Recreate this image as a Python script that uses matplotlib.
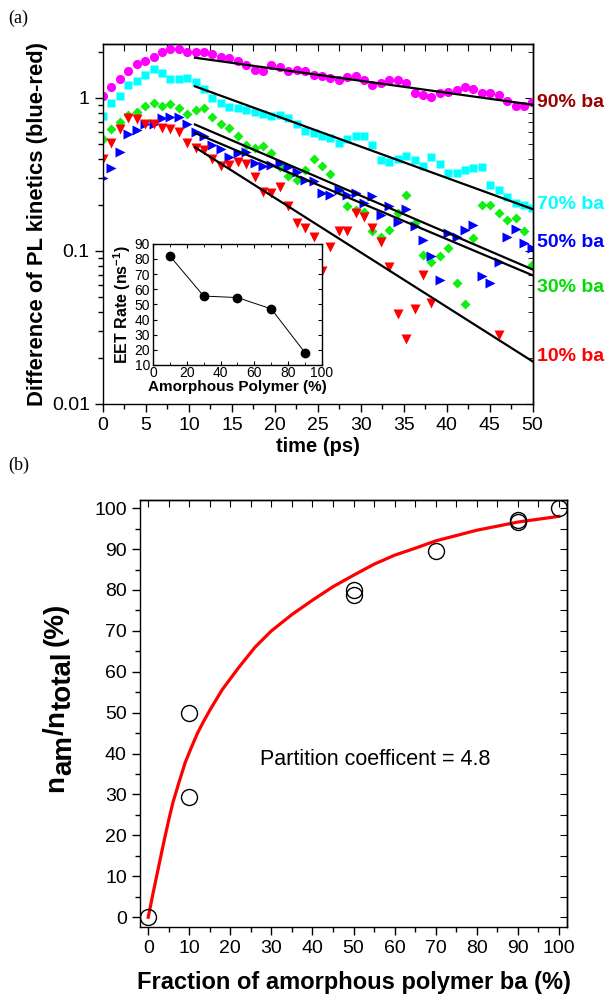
import numpy as np
import matplotlib
matplotlib.use("Agg")
import matplotlib.pyplot as plt
from matplotlib.ticker import MultipleLocator, LogLocator, NullFormatter
import matplotlib.transforms as mtransforms

plt.rcParams['font.family'] = 'Liberation Sans'
plt.rcParams['mathtext.fontset'] = 'custom'
plt.rcParams['mathtext.rm'] = 'Liberation Sans'
plt.rcParams['mathtext.bf'] = 'Liberation Sans:bold'
plt.rcParams['axes.linewidth'] = 1.0

# ---- panel (a): PL kinetics difference ----
t_ps = [0, 0.98, 1.96, 2.94, 3.92, 4.9, 5.88, 6.86, 7.84, 8.82, 9.8, 10.78,
        11.76, 12.74, 13.72, 14.7, 15.68, 16.66, 17.64, 18.62, 19.6, 20.58,
        21.56, 22.54, 23.52, 24.5, 25.48, 26.46, 27.44, 28.42, 29.4, 30.38,
        31.36, 32.34, 33.32, 34.3, 35.28, 36.26, 37.24, 38.22, 39.2, 40.18,
        41.16, 42.14, 43.12, 44.1, 45.08, 46.06, 47.04, 48.02, 49.0, 49.98]

ba90 = [1.03, 1.17, 1.32, 1.49, 1.67, 1.75, 1.86, 1.99, 2.09, 2.08, 2.0, 2.0,
        1.99, 1.94, 1.86, 1.82, 1.73, 1.64, 1.52, 1.49, 1.63, 1.59, 1.5, 1.51,
        1.49, 1.41, 1.39, 1.35, 1.31, 1.36, 1.38, 1.30, 1.22, 1.25, 1.31, 1.31,
        1.25, 1.07, 1.04, 1.02, 1.07, 1.10, 1.13, 1.17, 1.14, 1.07, 1.07, 1.05,
        0.955, 0.88, 0.89, 0.946]
ba70 = [0.76, 0.92, 1.03, 1.22, 1.28, 1.41, 1.54, 1.45, 1.33, 1.32, 1.34, 1.27,
        1.14, 1.0, 0.92, 0.87, 0.86, 0.83, 0.81, 0.79, 0.76, 0.77, 0.74, 0.67,
        0.61, 0.59, 0.56, 0.55, 0.51, 0.54, 0.56, 0.56, 0.49, 0.39, 0.38, 0.40,
        0.42, 0.39, 0.36, 0.41, 0.37, 0.325, 0.325, 0.34, 0.35, 0.355, 0.27,
        0.25, 0.226, 0.205, 0.20, 0.19]
ba50 = [0.30, 0.35, 0.44, 0.58, 0.62, 0.67, 0.68, 0.74, 0.75, 0.75, 0.68, 0.60,
        0.56, 0.49, 0.46, 0.41, 0.435, 0.445, 0.374, 0.36, 0.365, 0.374, 0.355,
        0.33, 0.29, 0.285, 0.24, 0.232, 0.25, 0.232, 0.238, 0.205, 0.229,
        0.172, 0.197, 0.155, 0.187, 0.146, 0.118, 0.093, 0.065, 0.13, 0.123,
        0.136, 0.148, 0.069, 0.062, 0.085, 0.124, 0.139, 0.112, 0.104]
ba30 = [0.54, 0.63, 0.70, 0.77, 0.81, 0.89, 0.92, 0.89, 0.91, 0.86, 0.79, 0.83,
        0.86, 0.75, 0.68, 0.64, 0.56, 0.49, 0.47, 0.485, 0.435, 0.355, 0.31,
        0.29, 0.34, 0.40, 0.36, 0.32, 0.25, 0.197, 0.185, 0.18, 0.134, 0.124,
        0.137, 0.176, 0.232, 0.152, 0.094, 0.085, 0.092, 0.104, 0.0615, 0.045,
        0.121, 0.2, 0.2, 0.176, 0.16, 0.163, 0.134, 0.081]
nan = np.nan
ba10 = [0.40, 0.51, 0.63, 0.74, 0.73, 0.68, 0.67, 0.64, 0.63, 0.60, 0.51, 0.47,
        0.457, 0.40, 0.36, 0.365, 0.38, 0.37, 0.306, 0.244, 0.238, 0.26, 0.197,
        0.152, 0.141, 0.123, 0.0743, 0.106, 0.134, 0.134, 0.176, 0.166, 0.141,
        0.115, 0.078, 0.0388, 0.0264, 0.042, 0.070, 0.0455, nan, nan, nan, nan,
        nan, nan, nan, 0.0282, nan, nan, nan, nan]

# single-exponential fits (start value at fit_t0, rate in ns^-1)
fit_t0 = 10.7
fit_amp = [1.83, 1.19, 0.59, 0.67, 0.476]
fit_rate = [18, 47, 54.5, 55.5, 82]

labels = ["90% ba", "70% ba", "50% ba", "30% ba", "10% ba"]
label_y = [0.93, 0.2, 0.113, 0.0573, 0.0203]
label_colors = ["#990000", "#00ffff", "#0000ff", "#00dd00", "#ff0000"]

# inset: EET rate vs amorphous polymer
inset_frac = [10, 30, 50, 70, 90]
inset_rate = [82, 55.5, 54.5, 47, 18]

# ---- panel (b): partition ----
frac_ba = [0, 10, 10, 50, 50, 70, 90, 90, 100]
n_ratio = [0, 50.0, 29.5, 80.0, 78.7, 89.5, 97.2, 96.6, 100]
curve_x = [0, 1, 2, 3, 4, 5, 6, 7.5, 9, 10.5, 12, 13.5, 15, 18, 22, 26, 30, 35,
           40, 45, 50, 55, 60, 65, 70, 75, 80, 85, 90, 95, 100]
curve_y = [0, 5, 9.8, 14.6, 19.3, 23.8, 28, 33, 37.8, 41.5, 45, 47.9, 50.6,
           55.6, 61, 66, 70, 74, 77.5, 80.8, 83.6, 86.3, 88.5, 90.2, 92, 93.3,
           94.6, 95.6, 96.6, 97.3, 98]

W, H = 608, 997
fig = plt.figure(figsize=(W / 100, H / 100), dpi=100)

ax = fig.add_axes([0.1694, 0.5948, 0.7066, 0.3611])
ax.plot(t_ps, ba90, 'o', color='#ff00ff', ms=6.6, mec='none')
ax.plot(t_ps, ba70, 's', color='#00ffff', ms=5.8, mec='none')
ax.plot(t_ps, ba30, 'D', color='#11ee11', ms=5.6, mec='none')
ax.plot(t_ps, ba50, '>', color='#0000ff', ms=7.0, mec='none')
ax.plot(t_ps, ba10, 'v', color='#ff0000', ms=7.0, mec='none')

tf = np.linspace(fit_t0, 50, 100)
for a, k in zip(fit_amp, fit_rate):
    ax.plot(tf, a * np.exp(-k / 1000 * (tf - fit_t0)), 'k-', lw=1.6)

ax.set_yscale('log')
ax.set_xlim(0, 50)
ax.set_ylim(0.01, 2.25)
ax.xaxis.set_major_locator(MultipleLocator(5))
ax.xaxis.set_minor_locator(MultipleLocator(2.5))
ax.yaxis.set_minor_locator(LogLocator(base=10, subs=np.arange(2, 10), numticks=10))
ax.yaxis.set_minor_formatter(NullFormatter())
ax.set_yticks([0.01, 0.1, 1])
ax.set_yticklabels(['0.01', '0.1', '1'])
ax.tick_params(which='both', direction='out', labelsize=14, top=False, right=False)
ax.tick_params(which='major', length=6, width=1)
ax.tick_params(which='minor', length=3.5, width=1)
ax.set_xlabel('time (ps)', fontsize=14.5, fontweight='bold', labelpad=2)
ax.set_ylabel('Difference of PL kinetics (blue-red)', fontsize=15.8, fontweight='bold', labelpad=3)

# mirrored inward ticks on top and right
axt = ax.secondary_xaxis('top')
axt.xaxis.set_major_locator(MultipleLocator(2.5))
axt.tick_params(direction='in', length=5, labeltop=False)
axr = ax.secondary_yaxis('right')
axr.set_yscale('log')
axr.tick_params(which='both', direction='in', labelright=False)
axr.tick_params(which='major', length=6)
axr.tick_params(which='minor', length=3.5)

trans = mtransforms.blended_transform_factory(ax.transAxes, ax.transData)
for lab, yv, c in zip(labels, label_y, label_colors):
    ax.text(1.011, yv, lab, transform=trans, color=c, fontsize=14,
            fontweight='bold', va='center', ha='left')

fig.text(0.014, 0.982, '(a)', family='Liberation Serif', fontsize=13, va='center')

# inset
axi = fig.add_axes([0.2516, 0.634, 0.278, 0.1214])
axi.plot(inset_frac, inset_rate, 'o-', color='black', ms=6, lw=0.7, mfc='black')
axi.set_xlim(0, 100)
axi.set_ylim(10, 90)
axi.xaxis.set_major_locator(MultipleLocator(20))
axi.xaxis.set_minor_locator(MultipleLocator(10))
axi.yaxis.set_major_locator(MultipleLocator(10))
axi.tick_params(which='both', direction='in', labelsize=10, top=True, right=True)
axi.tick_params(axis='x', pad=1)
axi.tick_params(axis='y', pad=2)
axi.tick_params(which='major', length=3)
axi.tick_params(which='minor', length=2)
axi.set_xlabel('Amorphous Polymer (%)', fontsize=11, fontweight='bold', labelpad=0)
axi.set_ylabel(r'EET Rate (ns$^{\mathbf{-1}}$)', fontsize=11.5, fontweight='bold', labelpad=1)

# ---- panel (b) ----
bx = fig.add_axes([0.2303, 0.0702, 0.7023, 0.4283])
bx.plot(curve_x, curve_y, '-', color='#ff0000', lw=2.3)
bx.plot(frac_ba, n_ratio, 'o', ms=11.5, mfc='none', mec='black', mew=1.0)
bx.set_xlim(-2, 102)
bx.set_ylim(-2.4, 102)
bx.xaxis.set_major_locator(MultipleLocator(10))
bx.xaxis.set_minor_locator(MultipleLocator(5))
bx.yaxis.set_major_locator(MultipleLocator(10))
bx.yaxis.set_minor_locator(MultipleLocator(5))
bx.tick_params(which='both', direction='out', labelsize=14, top=False, right=False)
bx.tick_params(which='major', length=6, width=1)
bx.tick_params(which='minor', length=3.5, width=1)
bxt = bx.secondary_xaxis('top')
bxt.xaxis.set_major_locator(MultipleLocator(5))
bxt.tick_params(direction='in', length=5, labeltop=False)
bxr = bx.secondary_yaxis('right')
bxr.yaxis.set_major_locator(MultipleLocator(5))
bxr.tick_params(direction='in', length=5, labelright=False)

bx.set_xlabel('Fraction of amorphous polymer ba (%)', fontsize=17, fontweight='bold', labelpad=10)
bx.text(0.28, 0.38, 'Partition coefficent = 4.8', transform=bx.transAxes, fontsize=15.5)

# y label n_am/n_total (%): subscripts are full size, only lowered
renderer = fig.canvas.get_renderer()
pieces = [("n", 0), ("am", 1), ("/", 0), ("n", 0), ("total", 1), ("(%)", 0)]
gaps = [0, 0, 0, 0, 0, 6]
y_px = 792
for (s, sub), g in zip(pieces, gaps):
    y_px -= g
    x_px = 63 + (8 if sub else 0)
    tx = fig.text(x_px / W, 1 - y_px / H, s, rotation=90, rotation_mode='anchor',
                  ha='left', va='baseline', fontsize=20, fontweight='bold')
    y_px -= tx.get_window_extent(renderer).height

fig.text(0.014, 0.533, '(b)', family='Liberation Serif', fontsize=13, va='center')

fig.savefig('out.png', dpi=100)
